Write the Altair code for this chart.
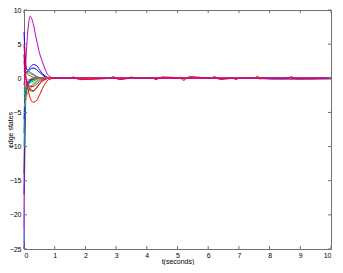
import altair as alt
import pandas as pd

# time grid for the transient part
T = [0, 0.03, 0.06, 0.1, 0.15, 0.2, 0.3, 0.4, 0.5, 0.6, 0.7, 0.8, 1.0]

names = ["b1", "b2", "bl1", "lav", "m2", "p1", "k1", "c1", "c2", "b3",
         "o1", "o2", "g1", "g2", "g3", "c3", "k2", "k3", "m3", "r2", "r3", "r1", "m1"]
colors = ["#0000FF", "#0000A0", "#3030FF", "#A080FF", "#C040C0", "#6000C0", "#404040",
          "#00BFBF", "#008080", "#0040FF",
          "#BFBF00", "#A0A000", "#008000", "#00A000", "#40C040", "#00BFBF", "#808080",
          "#606060", "#BF00BF", "#FF0000", "#FF4040", "#FF0000", "#BF00BF"]

early = {
    "m1":  [-1.0, 0.5, 2.5, 5.5, 8.0, 9.1, 8.0, 5.8, 3.8, 2.4, 1.2, 0.4, 0.0],
    "b1":  [6.8, 4.0, 2.0, 1.2, 1.3, 1.6, 2.0, 1.9, 1.3, 0.7, 0.3, 0.1, 0.0],
    "b2":  [3.5, 1.5, 0.9, 0.9, 1.1, 1.3, 1.5, 1.3, 0.9, 0.5, 0.2, 0.05, 0.0],
    "r1":  [5.0, 2.5, 0.5, -0.8, -2.0, -2.9, -3.5, -3.3, -2.5, -1.5, -0.7, -0.2, 0.0],
    "r2":  [2.5, 1.0, 0.0, -0.6, -1.2, -1.6, -1.8, -1.4, -0.8, -0.4, -0.15, 0.0, 0.0],
    "r3":  [-1.5, -1.0, -0.5, -0.3, -0.2, -0.1, 0.0, 0.0, 0.0, 0.0, 0.0, 0.0, 0.0],
    "o1":  [-4.2, -3.8, -3.2, -2.5, -1.8, -1.3, -0.7, -0.3, -0.1, 0.0, 0.0, 0.0, 0.0],
    "o2":  [-3.0, -2.8, -2.5, -2.2, -1.9, -1.6, -1.1, -0.6, -0.3, -0.1, 0.0, 0.0, 0.0],
    "g1":  [-2.0, -1.8, -1.6, -1.5, -1.6, -1.8, -1.9, -1.5, -0.9, -0.4, -0.15, 0.0, 0.0],
    "g2":  [1.5, 1.2, 0.9, 0.7, 0.5, 0.35, 0.15, 0.05, 0.0, 0.0, 0.0, 0.0, 0.0],
    "g3":  [-1.0, -1.1, -1.2, -1.3, -1.3, -1.2, -0.9, -0.5, -0.2, -0.05, 0.0, 0.0, 0.0],
    "c1":  [-10.0, -4.0, -2.0, -1.2, -0.9, -0.7, -0.4, -0.2, -0.05, 0.0, 0.0, 0.0, 0.0],
    "c2":  [-8.0, -3.0, -1.5, -0.9, -0.6, -0.4, -0.2, -0.05, 0.0, 0.0, 0.0, 0.0, 0.0],
    "c3":  [-2.5, -2.0, -1.5, -1.0, -0.8, -0.6, -0.3, -0.1, 0.0, 0.0, 0.0, 0.0, 0.0],
    "k1":  [-14.0, -5.0, -2.2, -1.2, -0.7, -0.4, -0.15, 0.0, 0.0, 0.0, 0.0, 0.0, 0.0],
    "k2":  [0.5, 0.6, 0.7, 0.8, 0.8, 0.7, 0.45, 0.2, 0.05, 0.0, 0.0, 0.0, 0.0],
    "k3":  [1.0, 0.9, 0.9, 1.0, 1.0, 0.9, 0.6, 0.3, 0.1, 0.0, 0.0, 0.0, 0.0],
    "bl1": [-25.0, -9.0, -3.0, -1.5, -0.9, -0.5, -0.2, 0.0, 0.0, 0.0, 0.0, 0.0, 0.0],
    "lav": [-24.0, -8.0, -2.5, -1.3, -0.8, -0.5, -0.2, 0.0, 0.0, 0.0, 0.0, 0.0, 0.0],
    "m2":  [-22.0, -7.0, -2.5, -1.0, -0.5, -0.3, -0.1, 0.0, 0.0, 0.0, 0.0, 0.0, 0.0],
    "p1":  [-17.0, -6.0, -2.2, -1.0, -0.6, -0.3, -0.1, 0.0, 0.0, 0.0, 0.0, 0.0, 0.0],
    "m3":  [0.5, 0.2, -0.2, -0.6, -1.0, -1.2, -1.2, -0.9, -0.5, -0.2, -0.05, 0.0, 0.0],
    "b3":  [-6.0, -2.5, -1.2, -0.7, -0.4, -0.2, -0.05, 0.0, 0.0, 0.0, 0.0, 0.0, 0.0],
}

# steady-state wiggles after t = 1
r1_late_t = [1.5, 1.6, 1.7, 1.8, 2.8, 2.9, 3.0, 3.1, 3.4, 3.5, 3.6, 4.2, 4.3, 4.4, 4.5,
             5.1, 5.2, 5.3, 5.4, 6.1, 6.2, 6.3, 6.4, 6.8, 6.9, 7.0, 7.5, 7.6, 7.7,
             8.6, 8.7, 8.8, 8.9, 10.0]
r1_late_v = [0.0, 0.2, 0.0, -0.2, 0.0, 0.25, 0.0, -0.2, 0.0, 0.2, 0.0, 0.0, -0.2, 0.0, 0.2,
             0.0, -0.3, 0.0, 0.25, 0.0, 0.25, 0.0, -0.2, 0.0, -0.2, 0.0, 0.0, 0.3, 0.0,
             0.0, 0.25, 0.0, -0.1, 0.0]
o1_late_t = [1.2, 1.3, 1.4, 2.8, 2.9, 3.0, 5.1, 5.2, 5.3, 7.6, 7.7, 7.8, 10.0]
o1_late_v = [0.0, 0.15, 0.0, 0.0, 0.15, 0.0, 0.0, -0.2, 0.0, 0.0, -0.15, 0.0, 0.0]
m1_late_t = [2.0, 2.1, 2.2, 5.0, 5.1, 5.2, 8.5, 8.6, 8.7, 10.0]
m1_late_v = [0.0, 0.12, 0.0, 0.0, 0.15, 0.0, 0.0, 0.15, 0.0, 0.0]
p1_late_t = [7.5, 8.0, 9.0, 10.0]
p1_late_v = [0.0, -0.1, -0.1, -0.08]
k1_late_t = [7.7, 8.2, 10.0]
k1_late_v = [0.0, -0.08, -0.05]

late = {"r1": (r1_late_t, r1_late_v), "o1": (o1_late_t, o1_late_v),
        "m1": (m1_late_t, m1_late_v), "p1": (p1_late_t, p1_late_v),
        "k1": (k1_late_t, k1_late_v)}

x_ticks = [0, 1, 2, 3, 4, 5, 6, 7, 8, 9, 10]
y_ticks = [-25, -20, -15, -10, -5, 0, 5, 10]

rows = []
for idx, name in enumerate(names):
    for t, v in zip(T, early[name]):
        rows.append({"s": name, "t": t, "v": v})
    if name in late:
        lt, lv = late[name]
        for t, v in zip(lt, lv):
            rows.append({"s": name, "t": t, "v": v})
    else:
        rows.append({"s": name, "t": 10.0, "v": 0.0})
df = pd.DataFrame(rows)

W, H = 307, 239
GRAY = "#707070"
FONT = "Liberation Sans"

xs = alt.Scale(domain=[0, 10], nice=False, zero=False)
ys = alt.Scale(domain=[-25, 10], nice=False, zero=False)

x_axis = alt.Axis(
    values=x_ticks, tickSize=0, domain=False, grid=False, labelPadding=2,
    labelFontSize=7, labelFont=FONT, labelColor="#000000",
    title="t(seconds)", titleFontSize=7, titleFont=FONT, titleFontWeight="normal",
    titleColor="#000000", titleY=12.5, titleBaseline="middle")
y_axis = alt.Axis(
    values=y_ticks, tickSize=0, domain=False, grid=False, labelPadding=3,
    labelFontSize=7, labelFont=FONT, labelColor="#000000",
    title="edge states", titleFontSize=7, titleFont=FONT, titleFontWeight="normal",
    titleColor="#000000", titleX=-14, titleY=H / 2, titleAngle=-90,
    titleAlign="center", titleBaseline="middle")

lines = alt.Chart(df).mark_line(strokeWidth=1, interpolate="monotone").encode(
    x=alt.X("t:Q", scale=xs, axis=x_axis),
    y=alt.Y("v:Q", scale=ys, axis=y_axis),
    color=alt.Color("s:N", scale=alt.Scale(domain=names, range=colors), legend=None),
    detail="s:N",
    order="t:Q",
)

xt = pd.DataFrame({"t": x_ticks})
yt = pd.DataFrame({"v": y_ticks})

tick_bottom = alt.Chart(xt).mark_rule(color=GRAY, strokeWidth=1).encode(
    x=alt.X("t:Q", scale=xs, axis=x_axis), y=alt.value(H), y2=alt.value(H - 3))
tick_top = alt.Chart(xt).mark_rule(color=GRAY, strokeWidth=1).encode(
    x=alt.X("t:Q", scale=xs, axis=x_axis), y=alt.value(0), y2=alt.value(3))
tick_left = alt.Chart(yt).mark_rule(color=GRAY, strokeWidth=1).encode(
    y=alt.Y("v:Q", scale=ys, axis=y_axis), x=alt.value(0), x2=alt.value(3))
tick_right = alt.Chart(yt).mark_rule(color=GRAY, strokeWidth=1).encode(
    y=alt.Y("v:Q", scale=ys, axis=y_axis), x=alt.value(W), x2=alt.value(W - 3))

chart = alt.layer(lines, tick_bottom, tick_top, tick_left, tick_right).properties(
    width=W, height=H,
    autosize=alt.AutoSizeParams(type="none"),
    padding={"left": 16, "top": 2, "right": 4, "bottom": 16},
    background="#FFFFFF",
).configure_view(stroke=GRAY, strokeWidth=1)

chart.save("out.html", embed_options={"renderer": "svg", "actions": False})
